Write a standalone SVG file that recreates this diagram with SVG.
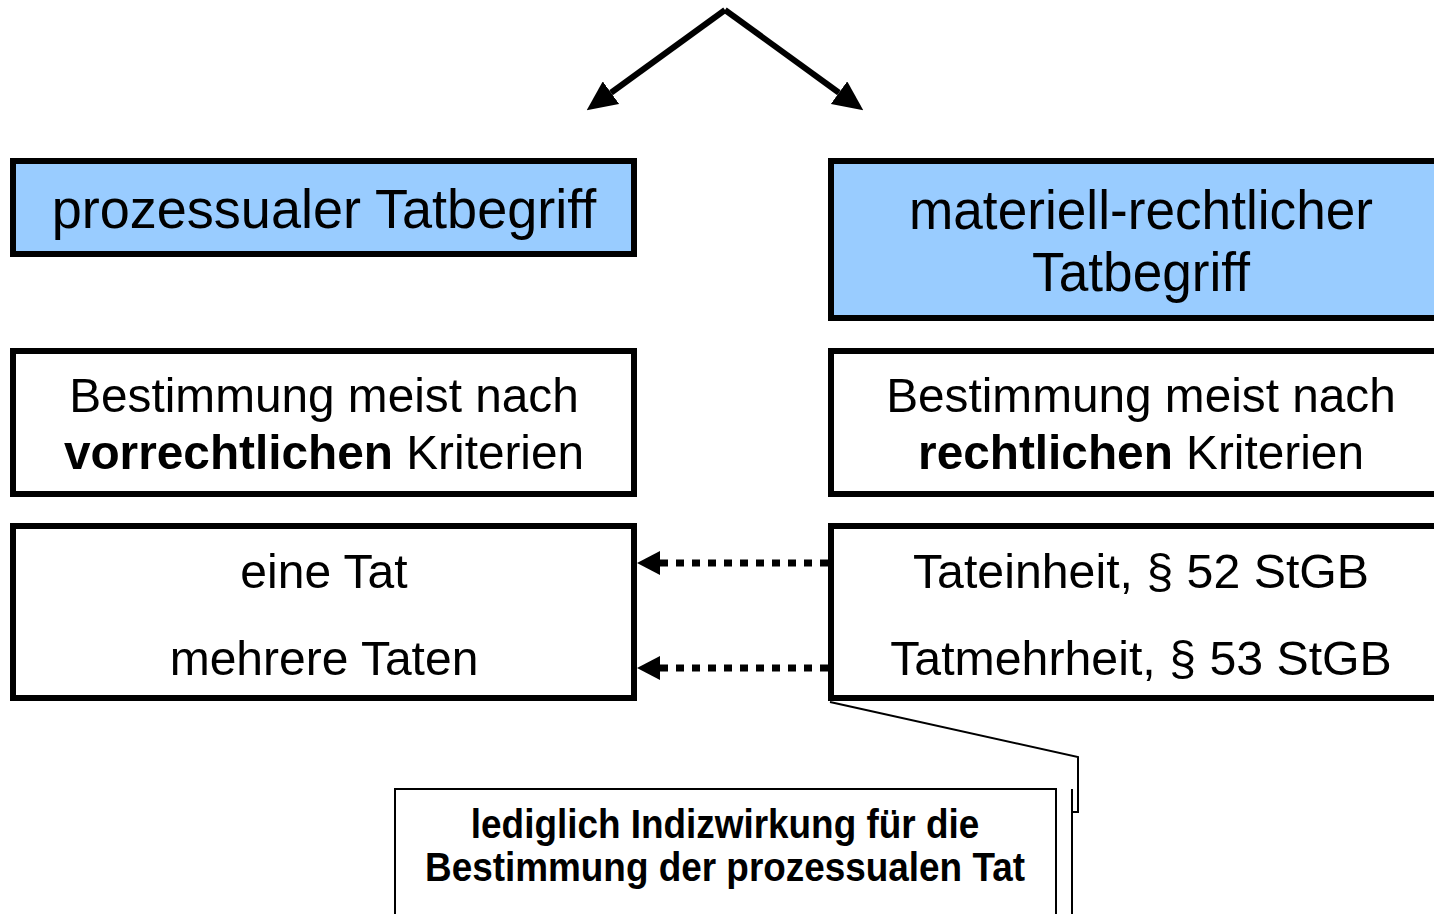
<svg xmlns="http://www.w3.org/2000/svg" width="1434" height="914" viewBox="0 0 1434 914">
<style>
.box{fill:#fff;stroke:#000;stroke-width:6}
.blue{fill:#99CCFF;stroke:#000;stroke-width:6}
.t{font-family:"Liberation Sans",Arial,sans-serif;fill:#000;text-anchor:middle}
.title{font-size:56px}
.body{font-size:49px}
.call{font-size:41px;font-weight:bold}
.b{font-weight:bold}
.big{fill:none;stroke:#000;stroke-width:6}
.dot{fill:none;stroke:#000;stroke-width:7;stroke-dasharray:8 8}
.thin{fill:none;stroke:#000;stroke-width:2}
</style>
<defs>
<marker id="headBig" viewBox="0 0 30 28" refX="0" refY="14" markerWidth="30" markerHeight="28" markerUnits="userSpaceOnUse" orient="auto">
<path d="M0,0 L30,14 L0,28 z" fill="#000"/>
</marker>
<marker id="headDot" viewBox="0 0 23 24" refX="0" refY="12" markerWidth="23" markerHeight="24" markerUnits="userSpaceOnUse" orient="auto">
<path d="M0,0 L23,12 L0,24 z" fill="#000"/>
</marker>
</defs>
<rect width="1434" height="914" fill="#fff"/>
<g id="connectors">
<path class="big" d="M725,10 L611,92.7" marker-end="url(#headBig)"/>
<path class="big" d="M725,10 L839,92.7" marker-end="url(#headBig)"/>
<path class="dot" d="M828,563 L660,563" marker-end="url(#headDot)"/>
<path class="dot" d="M828,668 L660,668" marker-end="url(#headDot)"/>
</g>
<g id="prozessual">
<rect class="blue" x="13" y="161" width="621" height="93"/>
<text class="t title" transform="translate(324,228) scale(0.965,1)">prozessualer Tatbegriff</text>
</g>
<g id="materiell">
<rect class="blue" x="831" y="161" width="621" height="157"/>
<text class="t title" transform="translate(1141,229) scale(0.95,1)">materiell-rechtlicher</text>
<text class="t title" transform="translate(1141,291) scale(0.95,1)">Tatbegriff</text>
</g>
<g id="vorrechtlich">
<rect class="box" x="13" y="351" width="621" height="143"/>
<text class="t body" transform="translate(324,412) scale(0.975,1)">Bestimmung meist nach</text>
<text class="t body" transform="translate(324,469) scale(0.975,1)"><tspan class="b">vorrechtlichen</tspan> Kriterien</text>
</g>
<g id="rechtlich">
<rect class="box" x="831" y="351" width="621" height="143"/>
<text class="t body" transform="translate(1141,412) scale(0.975,1)">Bestimmung meist nach</text>
<text class="t body" transform="translate(1141,469) scale(0.975,1)"><tspan class="b">rechtlichen</tspan> Kriterien</text>
</g>
<g id="taten">
<rect class="box" x="13" y="526" width="621" height="172"/>
<text class="t body" transform="translate(324,588) scale(0.98,1)">eine Tat</text>
<text class="t body" transform="translate(324,675) scale(0.98,1)">mehrere Taten</text>
</g>
<g id="konkurrenzen">
<rect class="box" x="831" y="526" width="621" height="172"/>
<text class="t body" transform="translate(1141,588) scale(0.985,1)">Tateinheit, § 52 StGB</text>
<text class="t body" transform="translate(1141,675) scale(0.985,1)">Tatmehrheit, § 53 StGB</text>
</g>
<g id="callout">
<path class="thin" d="M830,702 L1078,757 L1078,812 L1072,812"/>
<path class="thin" d="M1072,789 L1072,920"/>
<rect class="thin" fill="#fff" x="395" y="789" width="661" height="150"/>
<text class="t call" transform="translate(725,838) scale(0.9,1)">lediglich Indizwirkung für die</text>
<text class="t call" transform="translate(725,881) scale(0.9,1)">Bestimmung der prozessualen Tat</text>
</g>
</svg>
